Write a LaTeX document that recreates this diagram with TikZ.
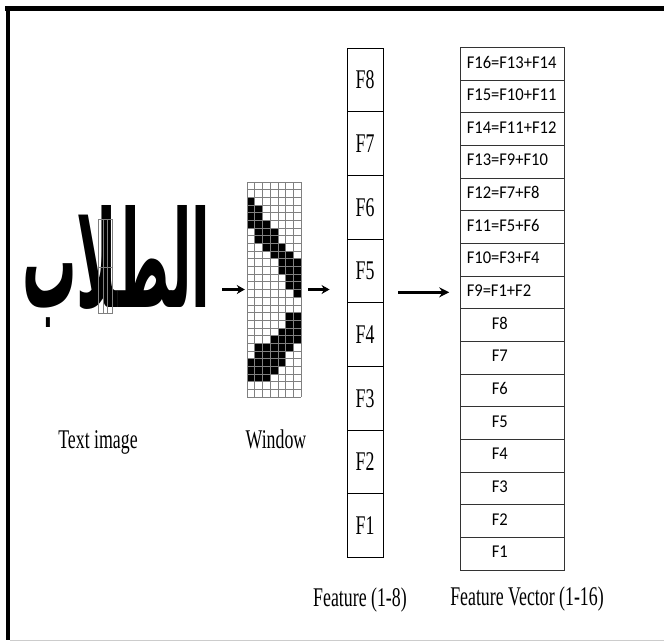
\documentclass[tikz,border=0pt]{standalone}
\usepackage{fontspec}
\usepackage{graphicx}
\setmainfont{Liberation Serif}
\newfontfamily\calfont{Carlito}
\newfontfamily\arabicfont[Script=Arabic]{DejaVu Sans}
\TeXXeTstate=1
\usetikzlibrary{arrows.meta}

\tikzset{
  lbl/.style={font=\fontsize{27}{30}\selectfont, inner sep=0, anchor=base},
  fcell/.style={draw=black, line width=0.9pt, minimum width=36pt, minimum height=63.7pt, inner sep=0,
                font=\fontsize{27}{30}\selectfont},
  vcell/.style={draw=black!80, line width=0.9pt, minimum width=103.6pt, minimum height=32.67pt, inner sep=0},
  vtext/.style={font=\calfont\fontsize{18}{20}\selectfont, inner sep=0, anchor=west},
  flow/.style={-{Stealth[length=8pt,width=9pt]}, line width=2.2pt},
  gridline/.style={draw=black!50, line width=0.7pt},
}
\newcommand{\narrow}[1]{\scalebox{0.66}[1]{#1}}
\newcommand{\slim}[1]{\scalebox{0.92}[1]{#1}}

\begin{document}
\begin{tikzpicture}[x=1pt, y=-1pt]
  \useasboundingbox (0,0) rectangle (664,641);

  % frame
  \fill[black] (5,6) rectangle (664,11);
  \fill[black] (6,6) rectangle (9.5,640);
  \draw[black!20, line width=0.8pt] (9.5,640) -- (664,640);

  % the Arabic word
  \node[inner sep=0, anchor=north west] (txt) at (22,205)
    {\resizebox*{188pt}{122pt}{\arabicfont\bfseries\beginR الطلاب\endR}};
  % sliding window over the word
  \draw[gridline, line width=0.6pt] (98,219) rectangle (112,313);
  \draw[gridline, line width=0.6pt] (103,219) -- (103,313);
  \draw[gridline, line width=0.6pt] (107.5,219) -- (107.5,313);
  \draw[gridline, line width=0.6pt] (98,267) -- (112,267);

  % enlarged window: 7 x 28 cells; each entry is row/first column/last column of black cells
  \node[inner sep=0, minimum width=54pt, minimum height=215pt] (win) at (274,289.5) {};
  \foreach \r/\a/\b in {2/0/0, 3/0/1, 4/0/1, 5/0/2, 6/1/3, 7/1/3, 8/2/4, 9/3/5,
                        10/4/6, 11/4/6, 12/5/6, 13/5/6, 14/6/6,
                        17/5/6, 18/5/6, 19/4/6, 20/3/6, 21/1/5, 22/1/4,
                        23/0/4, 24/0/3, 25/0/2} {
    \fill[black] ({247+\a*7.714}, {182+\r*7.679}) rectangle ({247+(\b+1)*7.714}, {182+(\r+1)*7.679});
  }
  \foreach \k in {0,...,7} { \draw[gridline] ({247+\k*7.714},182) -- ++(0,215); }
  \foreach \k in {0,...,28} { \draw[gridline] (247,{182+\k*7.679}) -- ++(54,0); }

  % features F1..F8
  \foreach \i in {1,...,8} {
    \node[fcell] (f\i) at (365, {48+(8-\i+0.5)*63.7}) {\narrow{F\i}};
  }

  % feature vector F1..F16
  \foreach \i in {1,...,16} {
    \node[vcell] (v\i) at (512.5, {47.3+(16-\i+0.5)*32.67}) {};
  }
  \foreach \i in {1,...,8} {
    \node[vtext] (vt\i) at ([xshift=31.3pt, yshift=1.5pt]v\i.west) {\slim{F\i}};
  }
  \foreach \i/\t in {9/F9=F1+F2, 10/F10=F3+F4, 11/F11=F5+F6, 12/F12=F7+F8,
                     13/F13=F9+F10, 14/F14=F11+F12, 15/F15=F10+F11, 16/F16=F13+F14} {
    \node[vtext] (vt\i) at ([xshift=6.3pt, yshift=1.5pt]v\i.west) {\slim{\t}};
  }

  % connectors
  \draw[flow, shorten <=12pt, shorten >=2pt] (txt.east |- win.west) -- (win.west);
  \draw[flow, shorten <=7pt, shorten >=17pt] (win.east) -- (win.east -| f5.west);
  \draw[-{Stealth[length=10pt,width=10pt]}, line width=2.6pt, shorten <=15pt, shorten >=11pt]
    (f5.east |- v9.west) -- (v9.west);

  % captions
  \node[lbl] (cap1) at (98,448) {\narrow{Text image}};
  \node[lbl] (cap2) at (276,448) {\narrow{Window}};
  \node[lbl] (cap3) at (360,606) {\narrow{Feature (1-8)}};
  \node[lbl] (cap4) at (527,605) {\narrow{Feature Vector (1-16)}};
\end{tikzpicture}
\end{document}
